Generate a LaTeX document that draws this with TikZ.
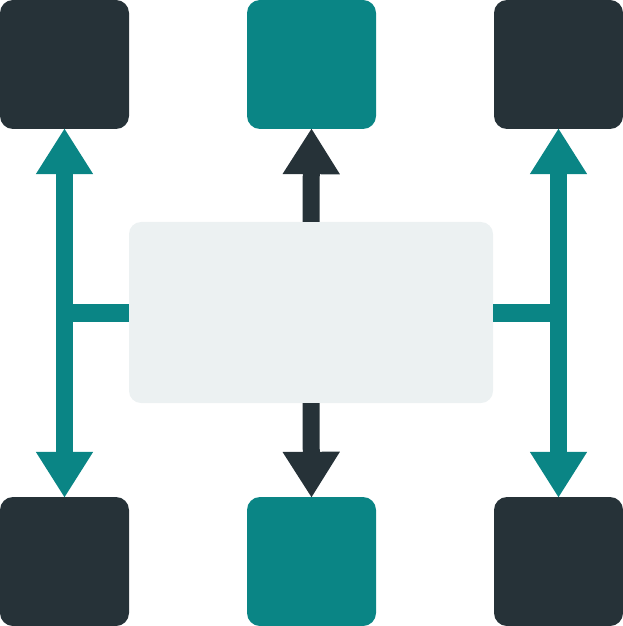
\documentclass[tikz,border=0pt]{standalone}
\usetikzlibrary{arrows.meta}
\definecolor{darkc}{HTML}{263238}
\definecolor{tealc}{HTML}{0A8585}
\definecolor{lightc}{HTML}{ECF1F2}
\tikzset{
  sq/.style={minimum size=129bp, inner sep=0pt, rounded corners=13bp, draw=none},
  dsq/.style={sq, fill=darkc},
  tsq/.style={sq, fill=tealc},
  centerbox/.style={minimum width=364bp, minimum height=181bp, inner sep=0pt, rounded corners=12bp, fill=lightc, draw=none},
  tip/.tip={Triangle[length=46bp,width=54bp]},
  arr/.style={line width=17bp, line cap=butt},
  darr/.style={arr, draw=darkc, -tip},
  tarr/.style={arr, draw=tealc, tip-tip},
  tbar/.style={line width=18bp, draw=tealc}
}
\begin{document}
\begin{tikzpicture}[x=1bp, y=-1bp]
\useasboundingbox (0,0) rectangle (623,626);
\node[dsq] (TL) at (64.5,64.5) {};
\node[tsq] (TM) at (311.5,64.5) {};
\node[dsq] (TR) at (558.5,64.5) {};
\node[dsq] (BL) at (64.5,561.5) {};
\node[tsq] (BM) at (311.5,561.5) {};
\node[dsq] (BR) at (558.5,561.5) {};
\node[centerbox] (C) at (311,312.5) {};
\draw[tbar] (C.west) -- (C.west -| TL.south);
\draw[tbar] (C.east) -- (C.east -| TR.south);
\draw[tarr] ([yshift=1bp]TL.south) -- ([yshift=-1bp]BL.north);
\draw[tarr] ([yshift=1bp]TR.south) -- ([yshift=-1bp]BR.north);
\draw[darr] (C.north) -- ([yshift=1bp]TM.south);
\draw[darr] (C.south) -- ([yshift=-1bp]BM.north);
\end{tikzpicture}
\end{document}
